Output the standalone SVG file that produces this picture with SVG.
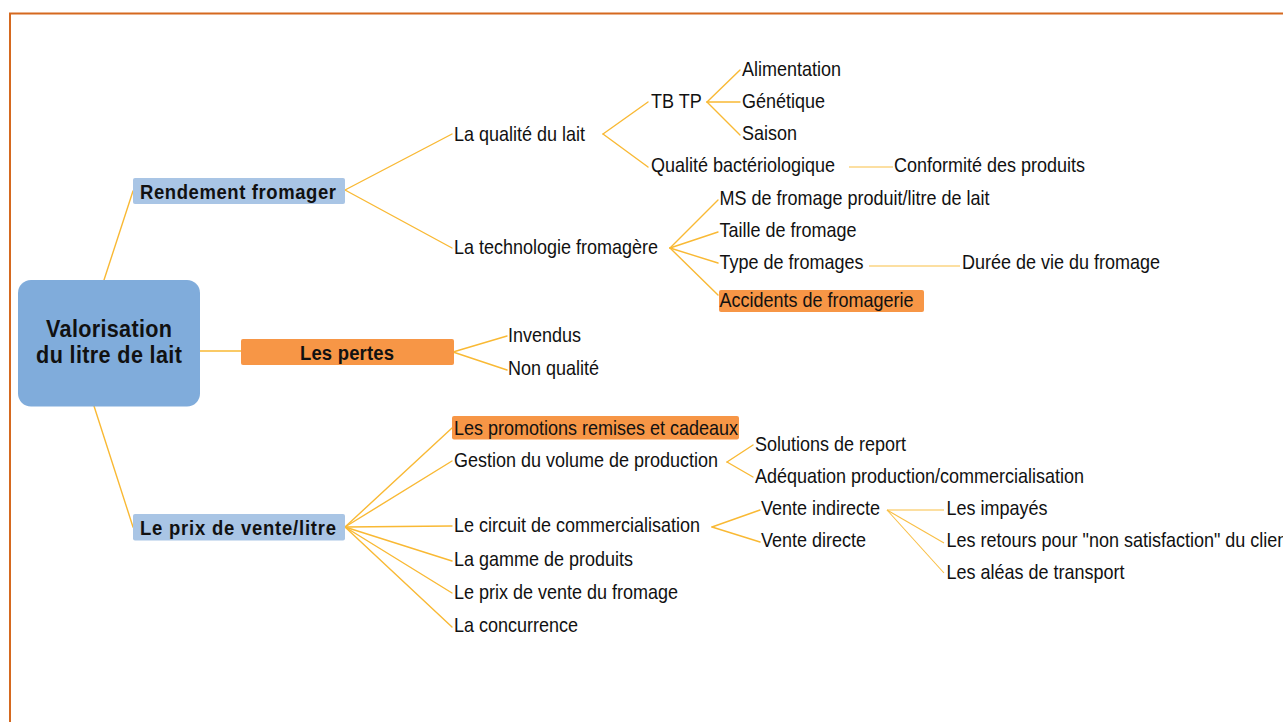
<svg xmlns="http://www.w3.org/2000/svg" width="1283" height="722" viewBox="0 0 1283 722">
<style>
.t{font-family:"Liberation Sans",Arial,sans-serif;font-size:20px;fill:#111;}
.b{font-family:"Liberation Sans",Arial,sans-serif;font-weight:bold;font-size:21px;fill:#111;}
.c{font-family:"Liberation Sans",Arial,sans-serif;font-weight:bold;font-size:24px;fill:#111;}
.ln{stroke:#F9B934;stroke-width:1.4;fill:none;stroke-linecap:round;}
.lt{stroke:#F9BF45;stroke-width:1.1;fill:none;}
.blue{fill:#A9C5E5;}
.orange{fill:#F79646;}
</style>
<rect x="10" y="13.5" width="1300" height="720" fill="none" stroke="#D5691F" stroke-width="2"/>
<g id="connectors">
<line class="ln" x1="104" y1="280" x2="133" y2="191"/>
<line class="ln" x1="200" y1="351" x2="241" y2="351"/>
<line class="ln" x1="94" y1="406" x2="133" y2="527"/>
<line class="ln" x1="345" y1="190" x2="452" y2="134"/>
<line class="ln" x1="345" y1="190" x2="452" y2="248"/>
<line class="ln" x1="603" y1="134" x2="648" y2="102"/>
<line class="ln" x1="603" y1="134" x2="648" y2="167"/>
<line class="ln" x1="707" y1="102" x2="740" y2="70"/>
<line class="ln" x1="707" y1="102" x2="740" y2="102"/>
<line class="ln" x1="707" y1="102" x2="740" y2="135"/>
<line class="lt" x1="849" y1="167" x2="893" y2="167"/>
<line class="ln" x1="670" y1="248" x2="718" y2="200"/>
<line class="ln" x1="670" y1="248" x2="718" y2="232"/>
<line class="ln" x1="670" y1="248" x2="718" y2="263"/>
<line class="ln" x1="670" y1="248" x2="718" y2="295"/>
<line class="lt" x1="869" y1="266" x2="960" y2="266"/>
<line class="ln" x1="453" y1="352" x2="507" y2="336"/>
<line class="ln" x1="453" y1="352" x2="507" y2="370"/>
<line class="ln" x1="345" y1="527" x2="452" y2="428"/>
<line class="ln" x1="345" y1="527" x2="452" y2="461"/>
<line class="ln" x1="345" y1="527" x2="452" y2="526"/>
<line class="ln" x1="345" y1="527" x2="452" y2="561"/>
<line class="ln" x1="345" y1="527" x2="452" y2="593"/>
<line class="ln" x1="345" y1="527" x2="452" y2="627"/>
<line class="ln" x1="727" y1="462" x2="753" y2="445"/>
<line class="ln" x1="727" y1="462" x2="753" y2="477"/>
<line class="ln" x1="712" y1="527" x2="760" y2="510"/>
<line class="ln" x1="712" y1="527" x2="760" y2="542"/>
<line class="lt" x1="887" y1="510" x2="944" y2="510"/>
<line class="lt" x1="887" y1="510" x2="944" y2="543"/>
<line class="lt" x1="887" y1="510" x2="944" y2="573"/>
</g>
<g id="root">
<rect x="18" y="280" width="182" height="126.5" rx="13" fill="#80ACDB"/>
<text class="c" transform="translate(109,336.5) scale(0.9,1)" text-anchor="middle" textLength="140">Valorisation</text>
<text class="c" transform="translate(109,363) scale(0.9,1)" text-anchor="middle" textLength="162">du litre de lait</text>
</g>
<g id="n-rendement">
<rect class="blue" x="133" y="178" width="212" height="26" rx="2"/>
<text class="b" transform="translate(140,199) scale(0.88,1)" textLength="222.7">Rendement fromager</text>
</g>
<g id="n-pertes">
<rect class="orange" x="241" y="339" width="213" height="26" rx="2"/>
<text class="b" transform="translate(347,359.5) scale(0.88,1)" text-anchor="middle" textLength="107">Les pertes</text>
</g>
<g id="n-prix">
<rect class="blue" x="133" y="514" width="212" height="26.5" rx="2"/>
<text class="b" transform="translate(140,535) scale(0.88,1)" textLength="222.7">Le prix de vente/litre</text>
</g>
<g id="n-qualite"><text class="t" transform="translate(454,141) scale(0.9,1)">La qualité du lait</text></g>
<g id="n-tbtp"><text class="t" transform="translate(651,108) scale(0.9,1)">TB TP</text></g>
<g id="n-alim"><text class="t" transform="translate(742,76) scale(0.9,1)">Alimentation</text></g>
<g id="n-genet"><text class="t" transform="translate(742,108) scale(0.9,1)">Génétique</text></g>
<g id="n-saison"><text class="t" transform="translate(742,140) scale(0.9,1)">Saison</text></g>
<g id="n-bact"><text class="t" transform="translate(651,172) scale(0.9,1)">Qualité bactériologique</text></g>
<g id="n-conf"><text class="t" transform="translate(894,172) scale(0.9,1)">Conformité des produits</text></g>
<g id="n-techno"><text class="t" transform="translate(454,253.5) scale(0.9,1)">La technologie fromagère</text></g>
<g id="n-ms"><text class="t" transform="translate(719.5,205) scale(0.9,1)">MS de fromage produit/litre de lait</text></g>
<g id="n-taille"><text class="t" transform="translate(719.5,237) scale(0.9,1)">Taille de fromage</text></g>
<g id="n-type"><text class="t" transform="translate(719.5,268.5) scale(0.9,1)">Type de fromages</text></g>
<g id="n-duree"><text class="t" transform="translate(962,269) scale(0.9,1)">Durée de vie du fromage</text></g>
<g id="n-accidents">
<rect class="orange" x="719" y="290" width="205" height="22" rx="2"/>
<text class="t" transform="translate(719.5,306.5) scale(0.9,1)">Accidents de fromagerie</text>
</g>
<g id="n-invendus"><text class="t" transform="translate(508,342) scale(0.9,1)">Invendus</text></g>
<g id="n-nonqual"><text class="t" transform="translate(508,375) scale(0.9,1)">Non qualité</text></g>
<g id="n-promo">
<rect class="orange" x="452" y="416" width="287" height="23.5" rx="2"/>
<text class="t" transform="translate(454,434.5) scale(0.9,1)">Les promotions remises et cadeaux</text>
</g>
<g id="n-gestion"><text class="t" transform="translate(454,467) scale(0.9,1)">Gestion du volume de production</text></g>
<g id="n-solutions"><text class="t" transform="translate(755,450.5) scale(0.9,1)">Solutions de report</text></g>
<g id="n-adequation"><text class="t" transform="translate(755,483) scale(0.9,1)">Adéquation production/commercialisation</text></g>
<g id="n-circuit"><text class="t" transform="translate(454,532) scale(0.9,1)">Le circuit de commercialisation</text></g>
<g id="n-vindirecte"><text class="t" transform="translate(761,515) scale(0.9,1)">Vente indirecte</text></g>
<g id="n-vdirecte"><text class="t" transform="translate(761,547) scale(0.9,1)">Vente directe</text></g>
<g id="n-impayes"><text class="t" transform="translate(946.5,515) scale(0.9,1)">Les impayés</text></g>
<g id="n-retours"><text class="t" transform="translate(946.5,547) scale(0.9,1)">Les retours pour "non satisfaction" du client</text></g>
<g id="n-aleas"><text class="t" transform="translate(946.5,578.5) scale(0.9,1)">Les aléas de transport</text></g>
<g id="n-gamme"><text class="t" transform="translate(454,566) scale(0.9,1)">La gamme de produits</text></g>
<g id="n-prixfromage"><text class="t" transform="translate(454,599) scale(0.9,1)">Le prix de vente du fromage</text></g>
<g id="n-concurrence"><text class="t" transform="translate(454,632) scale(0.9,1)">La concurrence</text></g>
</svg>
